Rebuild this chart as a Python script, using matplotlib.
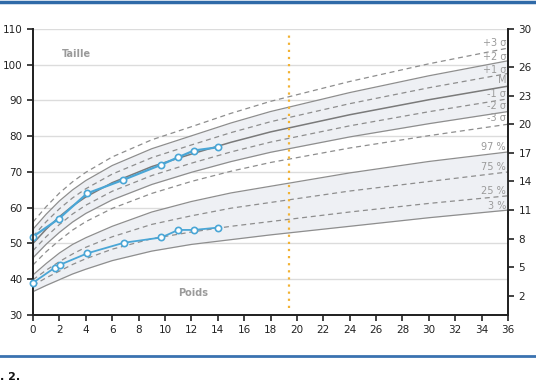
import matplotlib
matplotlib.use("Agg")
import matplotlib.pyplot as plt
from matplotlib.lines import Line2D

# ages (months) for the reference curves
ages = [0, 1, 2, 3, 4, 6, 9, 12, 15, 18, 24, 30, 36]

# height reference curves (cm)
h_p3 = [56, 60.3, 64.1, 67.25, 69.9, 74.2, 79.0, 82.65, 86.4, 89.75, 95.3, 100.25, 104.65]
h_p2 = [54, 58.2, 61.9, 65.0, 67.6, 71.8, 76.5, 80.1, 83.7, 86.9, 92.2, 96.9, 101.1]
h_p1 = [52, 56.1, 59.7, 62.75, 65.3, 69.4, 74.0, 77.55, 81.0, 84.05, 89.1, 93.55, 97.55]
h_m = [50, 54, 57.5, 60.5, 63, 67, 71.5, 75, 78.3, 81.2, 86, 90.2, 94]
h_m1 = [48, 51.9, 55.3, 58.25, 60.7, 64.6, 69.0, 72.45, 75.6, 78.35, 82.9, 86.85, 90.45]
h_m2 = [46, 49.8, 53.1, 56.0, 58.4, 62.2, 66.5, 69.9, 72.9, 75.5, 79.8, 83.5, 86.9]
h_m3 = [44, 47.7, 50.9, 53.75, 56.1, 59.8, 64.0, 67.35, 70.2, 72.65, 76.7, 80.15, 83.35]

# weight reference curves (kg)
w_97 = [4.2, 5.4, 6.5, 7.4, 8.1, 9.3, 10.8, 11.9, 12.8, 13.5, 14.9, 16.1, 17.1]
w_75 = [3.7, 4.7, 5.6, 6.4, 7.1, 8.2, 9.5, 10.4, 11.2, 11.8, 13.0, 14.0, 15.0]
w_25 = [3.1, 3.9, 4.6, 5.3, 5.9, 6.9, 8.0, 8.7, 9.3, 9.8, 10.8, 11.7, 12.5]
w_3 = [2.45, 3.1, 3.7, 4.3, 4.8, 5.7, 6.7, 7.4, 7.9, 8.4, 9.3, 10.2, 11.0]

# patient measurements
pat_h_age = [0, 1.95, 4.1, 6.85, 9.7, 11.0, 12.2, 14.0]
pat_h = [51.9, 56.9, 64.0, 67.8, 72.0, 74.1, 76.0, 76.9]
pat_w_age = [0, 1.64, 2.02, 4.12, 6.87, 9.73, 11.0, 12.2, 14.0]
pat_w = [3.38, 4.95, 5.25, 6.47, 7.57, 8.13, 8.92, 8.92, 9.16]

left_ticks = [30, 40, 50, 60, 70, 80, 90, 100, 110]
right_ticks = [2, 5, 8, 11, 14, 17, 20, 23, 26, 30]
x_ticks = list(range(0, 37, 2))

sd_labels = ["+3 σ", "+2 σ", "+1 σ", "M", "-1 σ", "-2 σ", "-3 σ"]
sd_label_y = [106.1, 102.2, 98.5, 95.7, 91.8, 88.5, 85.1]
pc_labels = ["97 %", "75 %", "25 %", "3 %"]
pc_label_y = [77.1, 71.5, 64.8, 60.6]

grey = "#8e8e8e"
band = "#eef0f4"
blue = "#4aa6d6"
lab = "#9a9a9a"
dash = (0, (4, 3))

fig = plt.figure(figsize=(5.36, 3.86), dpi=100)
ax = fig.add_axes([0.0616, 0.184, 0.8862, 0.741])
ax2 = ax.twinx()

ax.set_xlim(0, 36)
ax.set_ylim(30, 110)
ax2.set_ylim(0, 30)

for y in left_ticks[1:]:
    ax.axhline(y, color="#dcdcdc", lw=1, zorder=0)

# height band + curves
ax.fill_between(ages, h_m2, h_p2, color=band, lw=0, zorder=1)
for c in [h_p3, h_p1, h_m1, h_m3]:
    ax.plot(ages, c, color=grey, lw=0.9, ls=dash, zorder=2)
for c in [h_p2, h_m2]:
    ax.plot(ages, c, color=grey, lw=0.9, zorder=2)
ax.plot(ages, h_m, color="#7a7a7a", lw=1.1, zorder=2)

# weight band + curves
ax2.fill_between(ages, w_3, w_97, color=band, lw=0, zorder=1)
for c in [w_75, w_25]:
    ax2.plot(ages, c, color=grey, lw=0.9, ls=dash, zorder=2)
for c in [w_97, w_3]:
    ax2.plot(ages, c, color=grey, lw=0.9, zorder=2)

ax2.vlines(19.4, 0.75, 29.6, color="#f2b233", lw=1.6, ls=(0, (1, 2.2)), zorder=3)

ax.plot(pat_h_age, pat_h, color=blue, lw=1.6, marker="o", ms=4.5,
        mfc="white", mec=blue, mew=1.2, zorder=5, clip_on=False)
ax2.plot(pat_w_age, pat_w, color=blue, lw=1.3, marker="o", ms=4.5,
         mfc="white", mec=blue, mew=1.2, zorder=5, clip_on=False)

for t, y in zip(sd_labels + pc_labels, sd_label_y + pc_label_y):
    ax2.text(35.85, y, t, transform=ax.transData, color=lab, fontsize=7,
             ha="right", va="center", zorder=4)

ax2.text(3.3, 103, "Taille", transform=ax.transData, color=lab, fontsize=7,
         fontweight="bold", ha="center", va="center")
ax2.text(12.1, 36.2, "Poids", transform=ax.transData, color=lab, fontsize=7,
         fontweight="bold", ha="center", va="center")

ax.set_xticks(x_ticks)
ax.set_yticks(left_ticks)
ax2.set_yticks(right_ticks)
for a in (ax, ax2):
    a.tick_params(labelsize=7.5, length=4, width=1.2, colors="#222222")
    a.spines["top"].set_visible(False)
    for s in ["left", "right", "bottom"]:
        a.spines[s].set_linewidth(1.3)
        a.spines[s].set_color("#222222")

fig.add_artist(Line2D([0, 1], [0.995, 0.995], transform=fig.transFigure, color="#2f6aa8", lw=2.5))
fig.add_artist(Line2D([0, 1], [0.078, 0.078], transform=fig.transFigure, color="#3a72b0", lw=2))
fig.text(0.0, 0.016, ". 2.", fontsize=8, fontweight="bold", color="#111111")

fig.savefig("out.png", dpi=100)
